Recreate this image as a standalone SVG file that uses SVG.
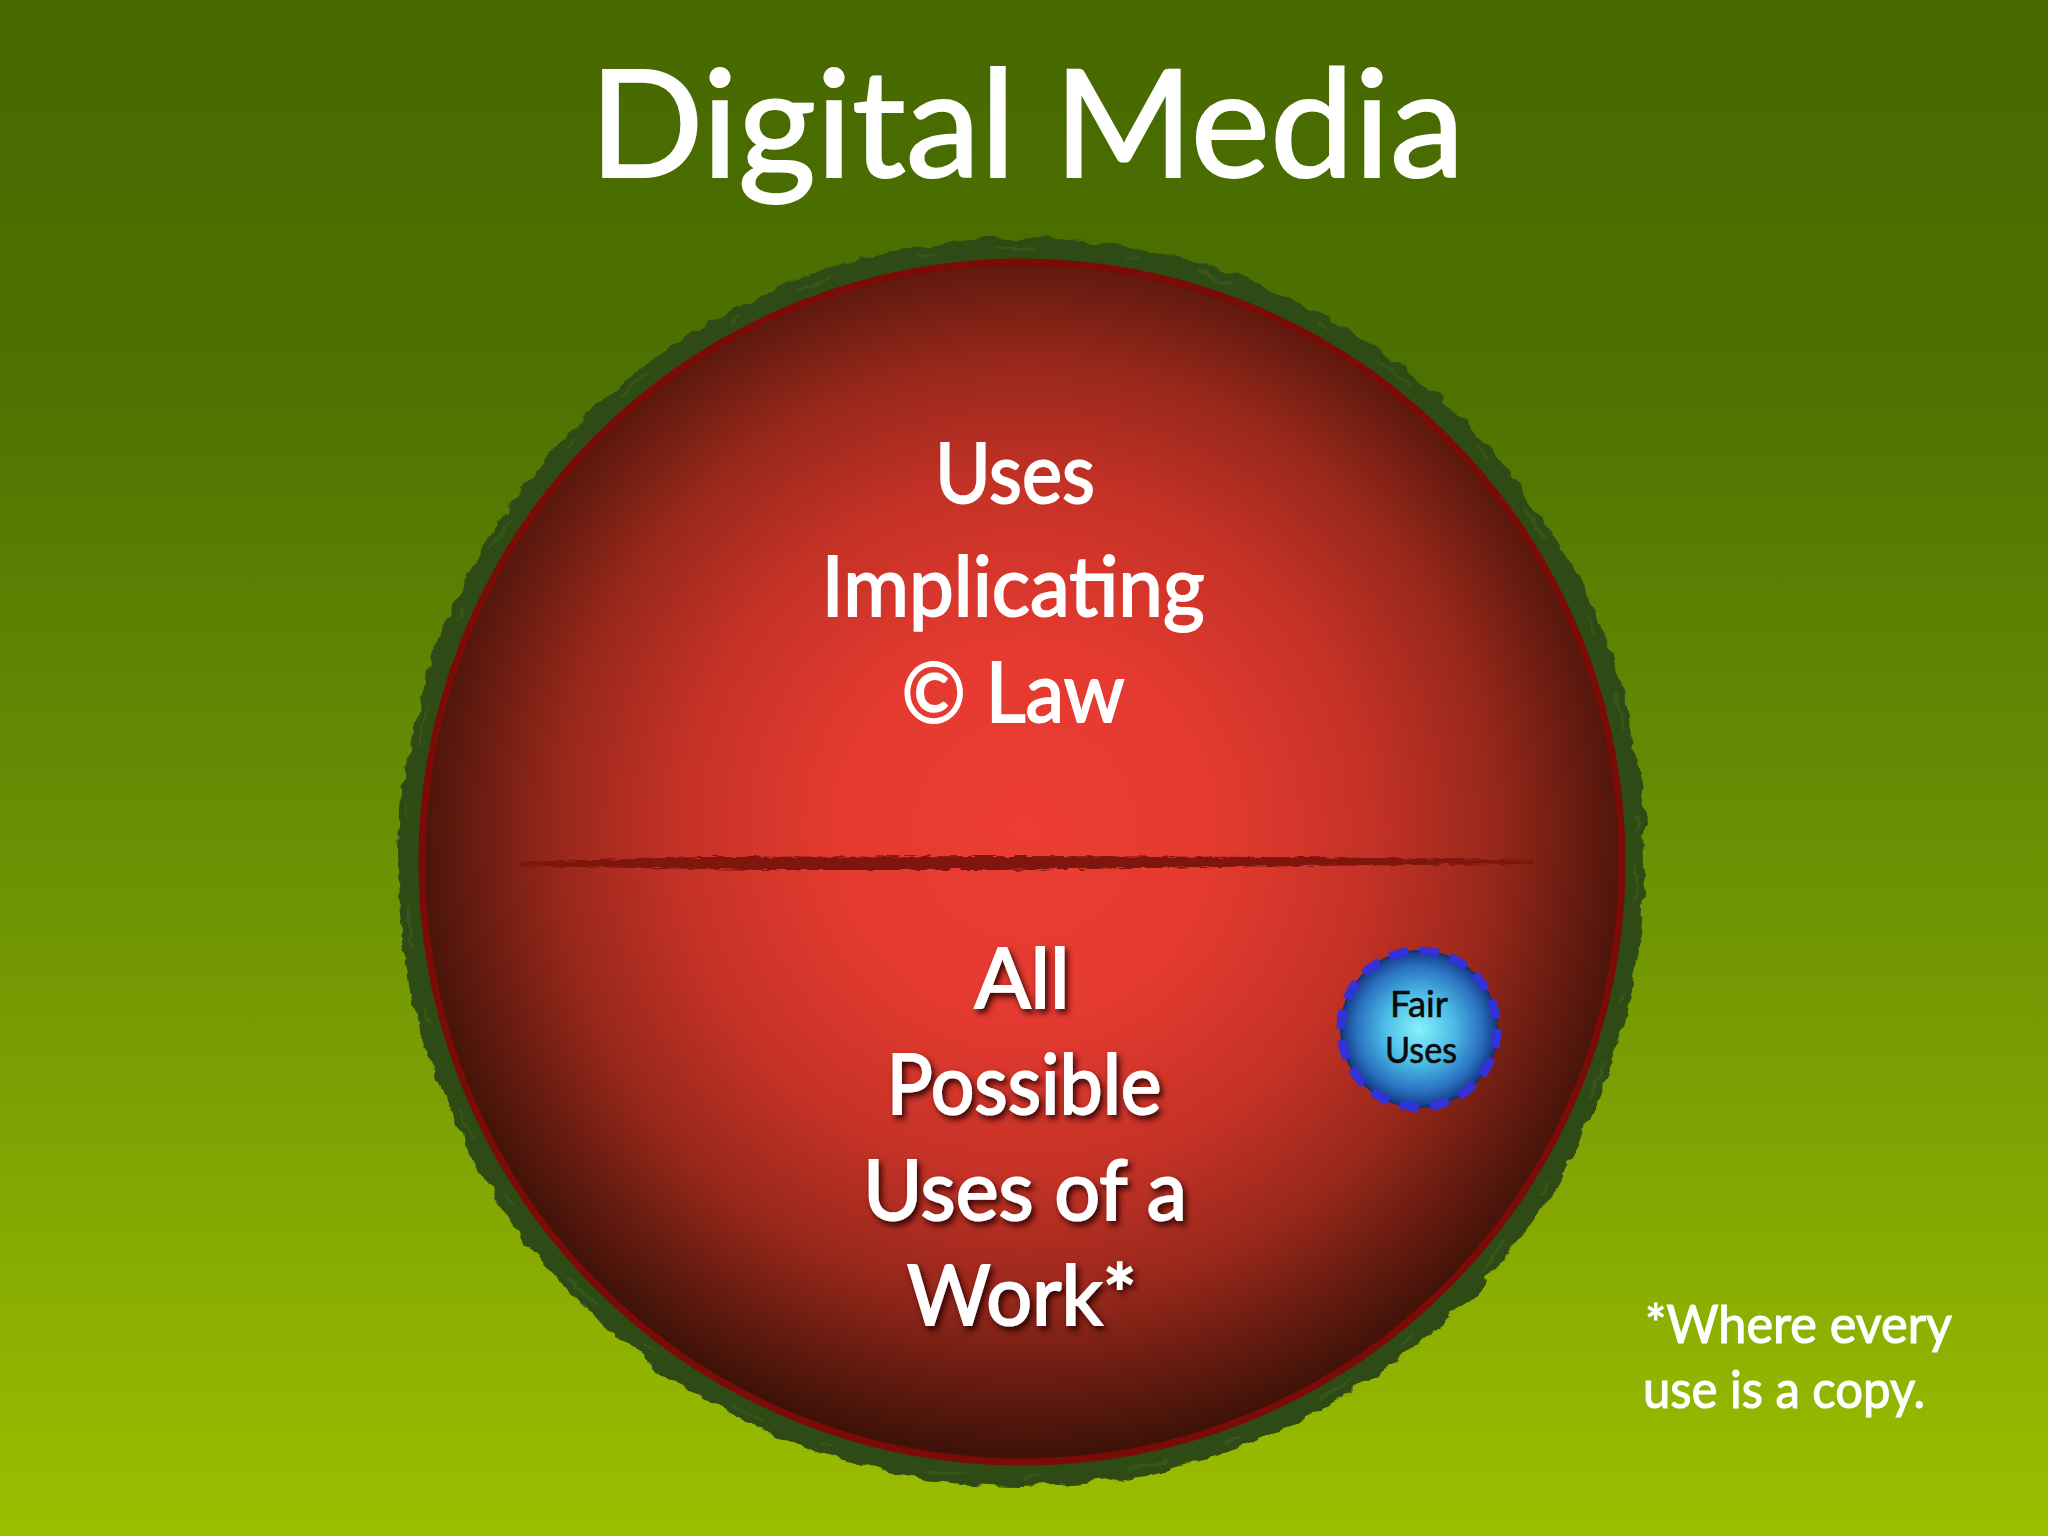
<svg xmlns="http://www.w3.org/2000/svg" width="2048" height="1536" viewBox="0 0 2048 1536">
  <defs>
    <linearGradient id="bg" x1="0" y1="0" x2="0" y2="1">
      <stop offset="0" stop-color="#466800"/>
      <stop offset="0.25" stop-color="#4e7200"/>
      <stop offset="0.5" stop-color="#658b04"/>
      <stop offset="0.75" stop-color="#80a402"/>
      <stop offset="1" stop-color="#9cbe00"/>
    </linearGradient>
    <radialGradient id="redfill" gradientUnits="userSpaceOnUse" cx="1025" cy="830" r="625">
      <stop offset="0" stop-color="#ec3d33"/>
      <stop offset="0.3" stop-color="#e43a30"/>
      <stop offset="0.55" stop-color="#c53226"/>
      <stop offset="0.75" stop-color="#98271b"/>
      <stop offset="0.9" stop-color="#621a0f"/>
      <stop offset="1" stop-color="#3e1208"/>
    </radialGradient>
    <radialGradient id="bluefill" cx="0.5" cy="0.5" r="0.5">
      <stop offset="0" stop-color="#86f2fc"/>
      <stop offset="0.45" stop-color="#4bbbe6"/>
      <stop offset="0.8" stop-color="#2a72c0"/>
      <stop offset="1" stop-color="#143a84"/>
    </radialGradient>
    <filter id="brush" x="-5%" y="-5%" width="110%" height="110%">
      <feTurbulence type="fractalNoise" baseFrequency="0.035 0.05" numOctaves="3" seed="4" result="n"/>
      <feDisplacementMap in="SourceGraphic" in2="n" scale="14" xChannelSelector="R" yChannelSelector="G"/>
    </filter>
    <filter id="brushline" x="-2%" y="-200%" width="104%" height="500%">
      <feTurbulence type="fractalNoise" baseFrequency="0.08 0.6" numOctaves="2" seed="7" result="n"/>
      <feDisplacementMap in="SourceGraphic" in2="n" scale="6" xChannelSelector="R" yChannelSelector="G"/>
    </filter>
    <filter id="shadow" x="-10%" y="-20%" width="120%" height="150%">
      <feGaussianBlur in="SourceAlpha" stdDeviation="3"/>
      <feOffset dx="3" dy="4" result="b"/>
      <feFlood flood-color="#240300" flood-opacity="0.9"/>
      <feComposite in2="b" operator="in" result="s"/>
      <feMerge><feMergeNode in="s"/><feMergeNode in="SourceGraphic"/></feMerge>
    </filter>
    <style>
      .t { font-family: "Lato", "Liberation Sans", sans-serif; fill: #ffffff; stroke: #ffffff; stroke-width: 2px; text-anchor: middle; }
      .big { font-size: 84px; }
      .foot { font-family: "Lato", "Liberation Sans", sans-serif; fill: #ffffff; stroke: #ffffff; stroke-width: 1.2px; font-size: 52px; }
      .fair { font-family: "Lato", "Liberation Sans", sans-serif; fill: #0a0a0a; stroke: #0a0a0a; stroke-width: 0.6px; font-size: 36px; text-anchor: middle; }
    </style>
  </defs>

  <rect id="background" x="0" y="0" width="2048" height="1536" fill="url(#bg)"/>

  <g id="title">
    <text class="t" x="1027" y="177" font-size="150" stroke-width="3" textLength="875" lengthAdjust="spacingAndGlyphs">Digital Media</text>
  </g>

  <g id="set-circle">
    <circle cx="1022" cy="862" r="611" fill="none" stroke="#2f4c17" stroke-width="26" filter="url(#brush)"/>
    <circle cx="1022" cy="862" r="615" fill="none" stroke="#3b5c1c" stroke-width="3" stroke-dasharray="40 90 15 60" filter="url(#brush)" opacity="0.7"/>
    <circle cx="1022" cy="862" r="600" fill="url(#redfill)" stroke="#7a0b07" stroke-width="7"/>
  </g>

  <g id="divider">
    <path d="M517 862 L700 857 L1000 856 L1300 857 L1534 860 L1534 864 L1300 866 L1000 870 L760 870 L520 866 Z" fill="#7e170e" filter="url(#brushline)"/>
  </g>

  <g id="upper-label">
    <text class="t big" x="1015" y="503" textLength="160" lengthAdjust="spacingAndGlyphs">Uses</text>
    <text class="t big" x="1013" y="616" textLength="383" lengthAdjust="spacingAndGlyphs">Implicating</text>
    <text class="t big" x="1013" y="722" textLength="223" lengthAdjust="spacingAndGlyphs">© Law</text>
  </g>

  <g id="lower-label" filter="url(#shadow)">
    <text class="t big" x="1022" y="1008" textLength="95" lengthAdjust="spacingAndGlyphs">All</text>
    <text class="t big" x="1024" y="1114" textLength="275" lengthAdjust="spacingAndGlyphs">Possible</text>
    <text class="t big" x="1025" y="1220" textLength="324" lengthAdjust="spacingAndGlyphs">Uses of a</text>
    <text class="t big" x="1022" y="1325" textLength="230" lengthAdjust="spacingAndGlyphs">Work*</text>
  </g>

  <g id="fair-uses">
    <circle cx="1419" cy="1029" r="78" fill="url(#bluefill)" stroke="#16337a" stroke-width="2"/>
    <circle cx="1419" cy="1029" r="78" fill="none" stroke="#3232d6" stroke-width="9" stroke-dasharray="19 11.63"/>
    <text class="fair" x="1419" y="1017" textLength="58" lengthAdjust="spacingAndGlyphs">Fair</text>
    <text class="fair" x="1421" y="1063" textLength="72" lengthAdjust="spacingAndGlyphs">Uses</text>
  </g>

  <g id="footnote">
    <text class="foot" x="1645" y="1343" textLength="307" lengthAdjust="spacingAndGlyphs">*Where every</text>
    <text class="foot" x="1643" y="1408" textLength="282" lengthAdjust="spacingAndGlyphs">use is a copy.</text>
  </g>
</svg>
